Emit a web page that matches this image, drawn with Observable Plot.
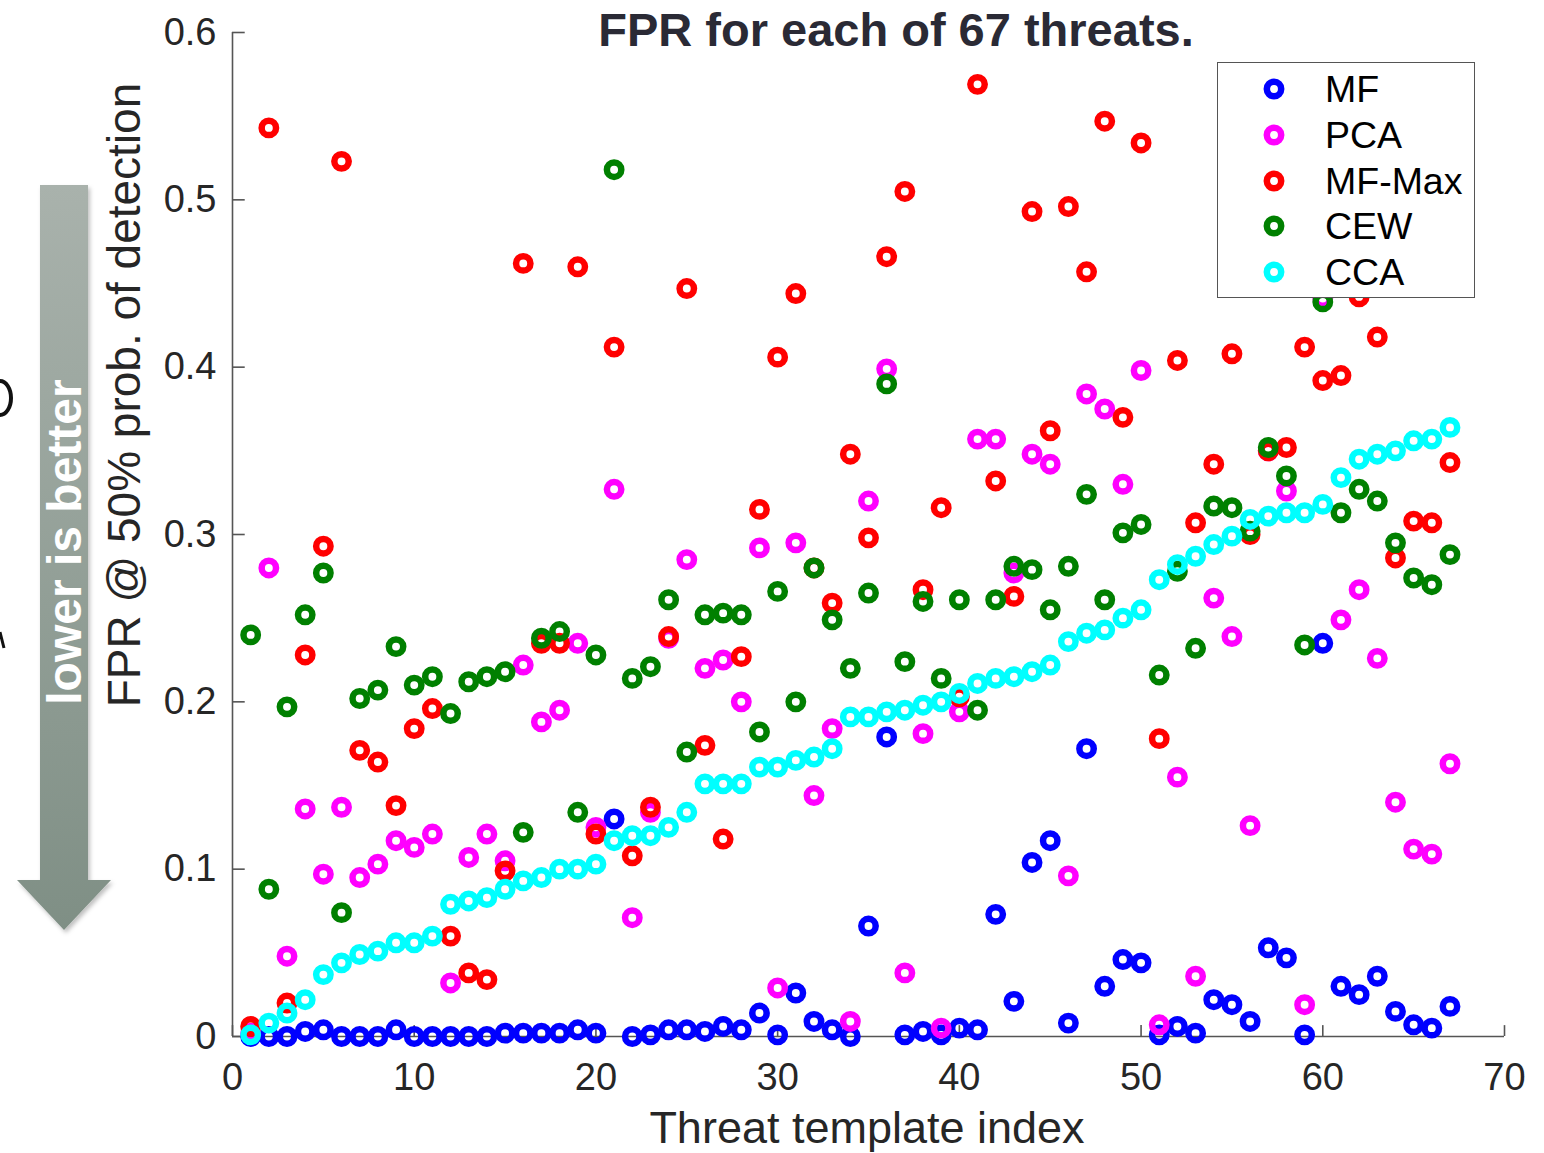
<!DOCTYPE html>
<html><head><meta charset="utf-8">
<script src="https://cdn.jsdelivr.net/npm/d3@7"></script>
<script src="https://cdn.jsdelivr.net/npm/@observablehq/plot@0.6"></script>
<style>
body{margin:0;background:#fff;}
#wrap{position:relative;width:1544px;height:1153px;overflow:hidden;font-family:"Liberation Sans",Arial,sans-serif;background:#fff;}
#chart{position:absolute;left:0;top:0;}
.abs{position:absolute;white-space:nowrap;line-height:1;}
#title{left:896px;top:29px;transform:translate(-50%,-50%);font-size:47px;font-weight:bold;color:#2a2a35;}
#ylab{left:124px;top:395px;transform:translate(-50%,-50%) rotate(-90deg);font-size:46px;color:#262626;}
#xlab{left:867px;top:1127px;transform:translate(-50%,-50%);font-size:45px;color:#262626;}
#legend{left:1217px;top:62px;width:256px;height:234px;border:1.5px solid #555;background:#fff;}
.lrow{position:absolute;left:0;height:40px;display:flex;align-items:center;}
.lrow span{position:absolute;left:107px;font-size:37.5px;color:#000;line-height:40px;}
#arrowtxt{left:65px;top:542px;transform:translate(-50%,-50%) rotate(-90deg);font-size:48px;font-weight:bold;color:#fff;}
</style></head><body><div id="wrap"><div id="chart"></div></div>
<script>
const seriesNames = ["MF","PCA","MF-Max","CEW","CCA"];
const seriesColors = ["#0000ff","#ff00ff","#ff0000","#008000","#00ffff"];
const threatIndex = [1,2,3,4,5,6,7,8,9,10,11,12,13,14,15,16,17,18,19,20,21,22,23,24,25,26,27,28,29,30,31,32,33,34,35,36,37,38,39,40,41,42,43,44,45,46,47,48,49,50,51,52,53,54,55,56,57,58,59,60,61,62,63,64,65,66,67];
const xTicks = [0,10,20,30,40,50,60,70];
const yTicks = [0,0.1,0.2,0.3,0.4,0.5,0.6];
const yTickLabels = ["0","0.1","0.2","0.3","0.4","0.5","0.6"];

const fprMF = [0.000,0.000,0.000,0.003,0.004,0.000,0.000,0.000,0.004,0.000,
  0.000,0.000,0.000,0.000,0.002,0.002,0.002,0.002,0.004,0.002,
  0.130,0.000,0.001,0.004,0.004,0.003,0.006,0.004,0.014,0.001,
  0.026,0.009,0.004,0.000,0.066,0.179,0.001,0.003,0.001,0.005,
  0.004,0.073,0.021,0.104,0.117,0.008,0.172,0.030,0.046,0.044,
  0.001,0.006,0.002,0.022,0.019,0.009,0.053,0.047,0.001,0.235,
  0.030,0.025,0.036,0.015,0.007,0.005,0.018];
const fprPCA = [0.002,0.280,0.048,0.136,0.097,0.137,0.095,0.103,0.117,0.113,
  0.121,0.032,0.107,0.121,0.105,0.222,0.188,0.195,0.235,0.125,
  0.327,0.071,0.134,0.238,0.285,0.220,0.225,0.200,0.292,0.029,
  0.295,0.144,0.184,0.009,0.320,0.399,0.038,0.181,0.005,0.194,
  0.357,0.357,0.277,0.348,0.342,0.096,0.384,0.375,0.330,0.398,
  0.007,0.155,0.036,0.262,0.239,0.126,0.350,0.326,0.019,0.441,
  0.249,0.267,0.226,0.140,0.112,0.109,0.163];
const fprMFMax = [0.006,0.543,0.020,0.228,0.293,0.523,0.171,0.164,0.138,0.184,
  0.196,0.060,0.038,0.034,0.099,0.462,0.235,0.235,0.460,0.121,
  0.412,0.108,0.137,0.239,0.447,0.174,0.118,0.227,0.315,0.406,
  0.444,0.280,0.259,0.348,0.298,0.466,0.505,0.267,0.316,0.203,
  0.569,0.332,0.263,0.493,0.362,0.496,0.457,0.547,0.370,0.534,
  0.178,0.404,0.307,0.342,0.408,0.300,0.350,0.352,0.412,0.392,
  0.395,0.442,0.418,0.286,0.308,0.307,0.343];
const fprCEW = [0.240,0.088,0.197,0.252,0.277,0.074,0.202,0.207,0.233,0.210,
  0.215,0.193,0.212,0.215,0.218,0.122,0.238,0.242,0.134,0.228,
  0.518,0.214,0.221,0.261,0.170,0.252,0.253,0.252,0.182,0.266,
  0.200,0.280,0.249,0.220,0.265,0.390,0.224,0.260,0.214,0.261,
  0.195,0.261,0.281,0.279,0.255,0.281,0.324,0.261,0.301,0.306,
  0.216,0.278,0.232,0.317,0.316,0.302,0.352,0.335,0.234,0.439,
  0.313,0.327,0.320,0.295,0.274,0.270,0.288];
const fprCCA = [0.001,0.008,0.014,0.022,0.037,0.044,0.049,0.051,0.056,0.056,
  0.060,0.079,0.081,0.083,0.088,0.093,0.095,0.100,0.100,0.103,
  0.117,0.120,0.120,0.125,0.134,0.151,0.151,0.151,0.161,0.161,
  0.165,0.167,0.172,0.191,0.191,0.194,0.195,0.198,0.200,0.205,
  0.211,0.214,0.215,0.218,0.222,0.236,0.241,0.243,0.250,0.255,
  0.273,0.282,0.287,0.294,0.299,0.309,0.311,0.313,0.313,0.318,
  0.334,0.345,0.348,0.350,0.356,0.357,0.364];

const seriesValues = [fprMF, fprPCA, fprMFMax, fprCEW, fprCCA];
const rows = [];
seriesNames.forEach((name, s) => {
  threatIndex.forEach((t, i) => rows.push({series: name, idx: t, fpr: seriesValues[s][i]}));
});

const axisColor = "#555";
const chart = Plot.plot({
  width: 1544,
  height: 1153,
  marginLeft: 232,
  marginRight: 40,
  marginTop: 32,
  marginBottom: 117,
  style: {fontFamily: "'Liberation Sans', Arial, sans-serif", fontSize: "38px", color: "#262626", background: "transparent"},
  x: {domain: [0, 70], ticks: xTicks, label: null},
  y: {domain: [0, 0.6], ticks: yTicks, label: null},
  color: {domain: seriesNames, range: seriesColors},
  marks: [
    Plot.axisX({ticks: xTicks, tickSize: 0, tickPadding: 27, label: null, tickFormat: d => String(d)}),
    Plot.axisY({ticks: yTicks, tickSize: 0, tickPadding: 16, label: null, tickFormat: d => yTickLabels[yTicks.indexOf(d)]}),
    Plot.ruleY([0], {x1: 0, x2: 70, stroke: axisColor, strokeWidth: 1.6}),
    Plot.ruleX([0], {y1: 0, y2: 0.6, stroke: axisColor, strokeWidth: 1.6}),
    Plot.ruleY(yTicks, {x1: 0, x2: 0.7, stroke: axisColor, strokeWidth: 1.6}),
    Plot.ruleX(xTicks, {y1: 0, y2: 0.0065, stroke: axisColor, strokeWidth: 1.6}),
    Plot.dot(rows, {x: "idx", y: "fpr", stroke: "series", r: 7.2, strokeWidth: 6.5, fill: "none"})
  ]
});
document.getElementById("chart").appendChild(chart);

const wrap = document.getElementById("wrap");
function addDiv(id, text) {
  const d = document.createElement("div");
  d.className = "abs"; d.id = id; d.textContent = text;
  wrap.appendChild(d); return d;
}

// arrow decoration and cropped slide glyph remnants at the far left
const arrowSvg = document.createElementNS("http://www.w3.org/2000/svg", "svg");
arrowSvg.setAttribute("width", "130");
arrowSvg.setAttribute("height", "1153");
arrowSvg.style.position = "absolute";
arrowSvg.style.left = "0px";
arrowSvg.style.top = "0px";
arrowSvg.innerHTML = `
<defs>
<linearGradient id="ag" x1="0" y1="0" x2="0" y2="1">
<stop offset="0" stop-color="#a9b2ac"/><stop offset="1" stop-color="#7f8f85"/>
</linearGradient>
<filter id="sh" x="-20%" y="-5%" width="140%" height="110%"><feDropShadow dx="2" dy="3" stdDeviation="2" flood-color="#000" flood-opacity="0.25"/></filter>
</defs>
<path d="M0,381 A11,17 0 0 1 0,415" fill="none" stroke="#111" stroke-width="4"/>
<path d="M0,632 L4,648" fill="none" stroke="#111" stroke-width="3"/>
<polygon points="40,185 88,185 88,880 111,880 64,930 17,880 40,880" fill="url(#ag)" filter="url(#sh)"/>`;
wrap.appendChild(arrowSvg);
addDiv("arrowtxt", "lower is better");

addDiv("title", "FPR for each of 67 threats.");
addDiv("ylab", "FPR @ 50% prob. of detection");
addDiv("xlab", "Threat template index");

const legend = document.createElement("div");
legend.className = "abs"; legend.id = "legend";
seriesNames.forEach((name, i) => {
  const r = document.createElement("div");
  r.className = "lrow";
  r.style.top = (26 + 45.8 * i - 20) + "px";
  r.innerHTML = `<svg width="80" height="40" style="position:absolute;left:16px;top:0"><circle cx="40" cy="20" r="7.2" fill="none" stroke="${seriesColors[i]}" stroke-width="6.5"/></svg><span>${name}</span>`;
  legend.appendChild(r);
});
wrap.appendChild(legend);
</script>
</body></html>
